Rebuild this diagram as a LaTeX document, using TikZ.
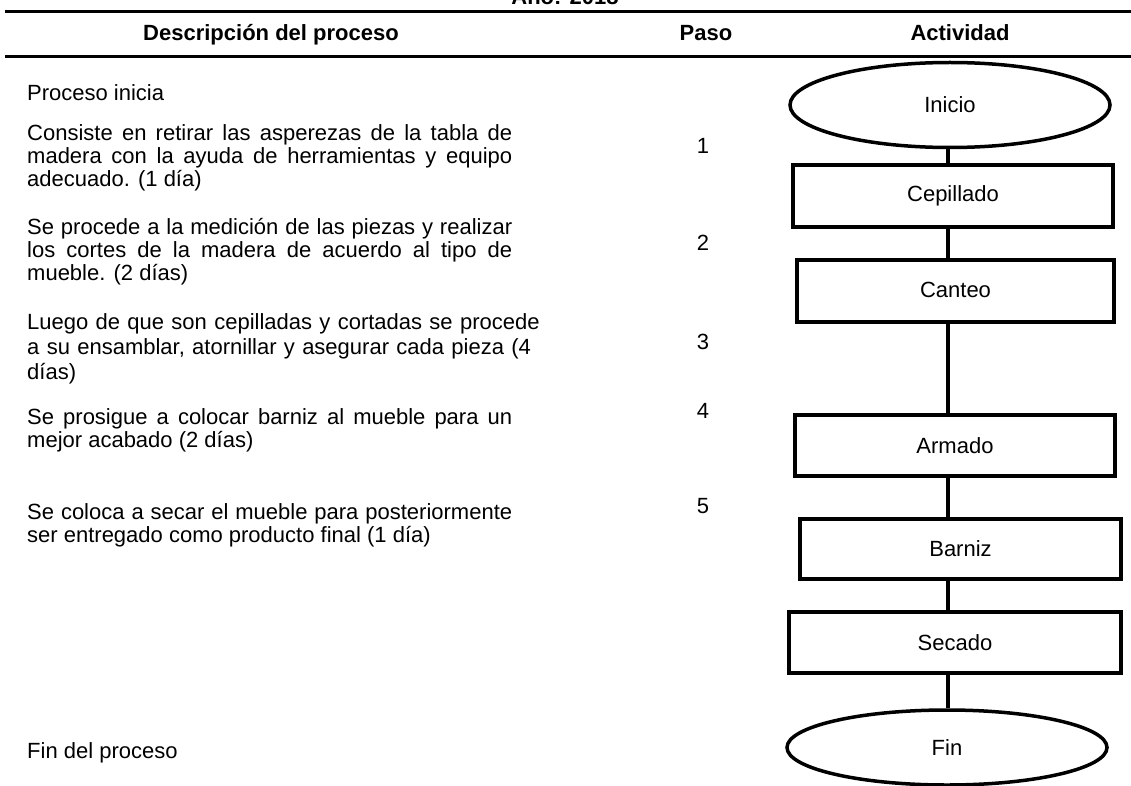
\documentclass[tikz,border=0pt]{standalone}
\usepackage{fontspec}
\setmainfont{Liberation Sans}
\usetikzlibrary{shapes.geometric}
\begin{document}
\begin{tikzpicture}[x=1pt,y=-1pt,
  every node/.style={font=\fontsize{22}{23}\selectfont, inner sep=0pt},
  hdr/.style={font=\fontsize{22}{23}\selectfont\bfseries, anchor=base},
  desc/.style={anchor=base west, text width=485pt, align=justify},
  descl/.style={anchor=base west, text width=540pt, align=left, font=\fontsize{22}{25}\selectfont},
  num/.style={anchor=base},
  stepbox/.style={draw, line width=3.5pt, rectangle, minimum height=62pt},
  term/.style={draw, line width=3.5pt, ellipse, minimum width=320pt},
  link/.style={line width=3.5pt}
]
\clip (0,0) rectangle (1131,786);
\useasboundingbox (0,0) rectangle (1131,786);
% title and header
\node[hdr] (title) at (565,5) {Año: 2018};
\draw[line width=3pt] (5,12) -- (1131,12);
\draw[line width=3pt] (5,57) -- (1131,57);
\node[hdr] (h1) at (271,41) {Descripción del proceso};
\node[hdr] (h2) at (706,41) {Paso};
\node[hdr] (h3) at (960,41) {Actividad};
% descriptions
\node[anchor=base west] (d0) at (27,101) {Proceso inicia};
\node[desc] (d1) at (27,141) {Consiste en retirar las asperezas de la tabla de\linebreak madera con la ayuda de herramientas y equipo\linebreak adecuado. (1 día)};
\node[desc] (d2) at (27,234) {Se procede a la medición de las piezas y realizar\linebreak los cortes de la madera de acuerdo al tipo de\linebreak mueble. (2 días)};
\node[descl] (d3) at (27,329) {Luego de que son cepilladas y cortadas se procede\\a su ensamblar, atornillar y asegurar cada pieza (4\\días)};
\node[desc] (d4) at (27,424) {Se prosigue a colocar barniz al mueble para un\linebreak mejor acabado (2 días)};
\node[desc] (d5) at (27,519) {Se coloca a secar el mueble para posteriormente\linebreak ser entregado como producto final (1 día)};
\node[anchor=base west] (d6) at (27,758) {Fin del proceso};
% step numbers
\node[num] (n1) at (703,154) {1};
\node[num] (n2) at (703,250) {2};
\node[num] (n3) at (703,349) {3};
\node[num] (n4) at (703,418) {4};
\node[num] (n5) at (703,513) {5};
% flowchart
\coordinate (X) at (948,0);
\node[term, minimum height=85pt] (inicio) at (950,105) {Inicio};
\node[stepbox, minimum width=320pt] (cep) at (953,196) {Cepillado};
\node[stepbox, minimum width=317pt] (can) at (955.5,291) {\raisebox{3pt}{Canteo}};
\node[stepbox, minimum width=320pt, minimum height=61pt] (arm) at (955,445.5) {Armado};
\node[stepbox, minimum width=321pt, minimum height=60pt] (bar) at (960.5,549) {Barniz};
\node[stepbox, minimum width=332pt, minimum height=61pt] (sec) at (955,642.5) {Secado};
\node[term, minimum height=75pt] (fin) at (947,747.5) {Fin};
\draw[link] (inicio.south -| X) -- (cep.north -| X);
\draw[link] (cep.south -| X) -- (can.north -| X);
\draw[link] (can.south -| X) -- (arm.north -| X);
\draw[link] (arm.south -| X) -- (bar.north -| X);
\draw[link] (bar.south -| X) -- (sec.north -| X);
\draw[link] (sec.south -| X) -- (fin.north -| X);
\end{tikzpicture}
\end{document}
